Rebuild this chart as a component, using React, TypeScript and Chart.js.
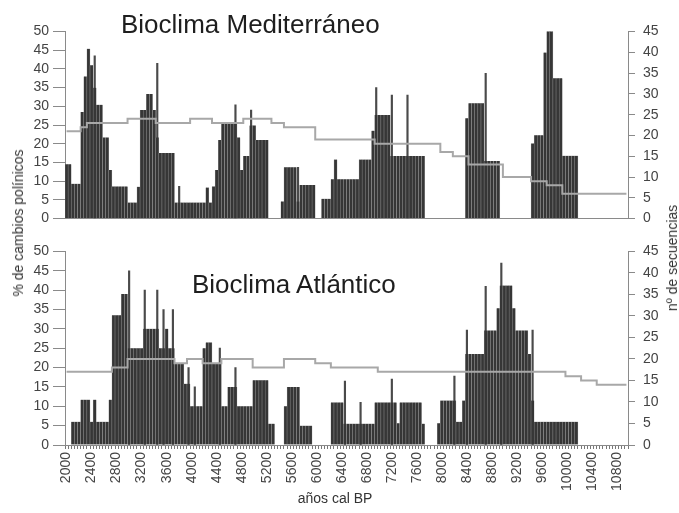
import React, { useEffect, useRef } from "react";
import { Chart, registerables } from "chart.js";

Chart.register(...registerables);

const FONT = "'Liberation Sans', Arial, Helvetica, sans-serif";

// x categories: 50-year bins (años cal BP)
const years = [
  2000, 2050, 2100, 2150, 2200, 2250, 2300, 2350, 2400, 2450,
  2500, 2550, 2600, 2650, 2700, 2750, 2800, 2850, 2900, 2950,
  3000, 3050, 3100, 3150, 3200, 3250, 3300, 3350, 3400, 3450,
  3500, 3550, 3600, 3650, 3700, 3750, 3800, 3850, 3900, 3950,
  4000, 4050, 4100, 4150, 4200, 4250, 4300, 4350, 4400, 4450,
  4500, 4550, 4600, 4650, 4700, 4750, 4800, 4850, 4900, 4950,
  5000, 5050, 5100, 5150, 5200, 5250, 5300, 5350, 5400, 5450,
  5500, 5550, 5600, 5650, 5700, 5750, 5800, 5850, 5900, 5950,
  6000, 6050, 6100, 6150, 6200, 6250, 6300, 6350, 6400, 6450,
  6500, 6550, 6600, 6650, 6700, 6750, 6800, 6850, 6900, 6950,
  7000, 7050, 7100, 7150, 7200, 7250, 7300, 7350, 7400, 7450,
  7500, 7550, 7600, 7650, 7700, 7750, 7800, 7850, 7900, 7950,
  8000, 8050, 8100, 8150, 8200, 8250, 8300, 8350, 8400, 8450,
  8500, 8550, 8600, 8650, 8700, 8750, 8800, 8850, 8900, 8950,
  9000, 9050, 9100, 9150, 9200, 9250, 9300, 9350, 9400, 9450,
  9500, 9550, 9600, 9650, 9700, 9750, 9800, 9850, 9900, 9950,
  10000, 10050, 10100, 10150, 10200, 10250, 10300, 10350, 10400, 10450,
  10500, 10550, 10600, 10650, 10700, 10750, 10800, 10850, 10900, 10950,
];

// Bioclima Mediterráneo: % de cambios polínicos
const medBars = [
  14.5, 14.5, 9.3, 9.3, 9.3, 28.5, 38, 45.4, 41, 35,
  30.4, 30.4, 21.7, 21.7, 13, 8.6, 8.6, 8.6, 8.6, 8.6,
  4.3, 4.3, 4.3, 8.5, 29, 29, 33.3, 33.3, 29, 21.7,
  17.5, 17.5, 17.5, 17.5, 17.5, 4.3, 4.3, 4.3, 4.3, 4.3,
  4.3, 4.3, 4.3, 4.3, 4.3, 8.3, 4.3, 8.6, 13, 21,
  25.5, 25.5, 25.5, 25.5, 25.5, 21.7, 13, 16.7, 16.7, 24.9,
  24.9, 21, 21, 21, 21, 0, 0, 0, 0, 4.6,
  13.7, 13.7, 13.7, 13.7, 4.6, 9, 9, 9, 9, 9,
  0, 0, 5.3, 5.3, 5.3, 10.5, 15.8, 10.5, 10.5, 10.5,
  10.5, 10.5, 10.5, 10.5, 15.8, 15.8, 15.8, 15.8, 23.5, 27.7,
  27.7, 27.7, 27.7, 27.7, 16.7, 16.7, 16.7, 16.7, 16.7, 16.7,
  16.7, 16.7, 16.7, 16.7, 16.7, 0, 0, 0, 0, 0,
  0, 0, 0, 0, 0, 0, 0, 0, 26.8, 30.8,
  30.8, 30.8, 30.8, 30.8, 15.4, 15.4, 15.4, 15.4, 15.4, 0,
  0, 0, 0, 0, 0, 0, 0, 0, 0, 20.1,
  22.3, 22.3, 22.3, 44.4, 50.2, 50.2, 37.5, 37.5, 37.5, 16.8,
  16.8, 16.8, 16.8, 16.8, 0, 0, 0, 0, 0, 0,
  0, 0, 0, 0, 0, 0, 0, 0, 0, 0,
];

// Bioclima Mediterráneo: nº de secuencias
const medSeq = [
  21, 21, 21, 21, 21, 22, 22, 23, 23, 23,
  23, 23, 23, 23, 23, 23, 23, 23, 23, 23,
  24, 24, 24, 24, 24, 24, 24, 24, 24, 23,
  23, 23, 23, 23, 23, 23, 23, 23, 23, 23,
  24, 24, 24, 24, 24, 24, 24, 23, 23, 23,
  23, 23, 23, 23, 23, 23, 23, 24, 24, 24,
  24, 24, 24, 24, 24, 24, 23, 23, 23, 23,
  22, 22, 22, 22, 22, 22, 22, 22, 22, 22,
  19, 19, 19, 19, 19, 19, 19, 19, 19, 19,
  19, 19, 19, 19, 19, 19, 19, 19, 19, 18,
  18, 18, 18, 18, 18, 18, 18, 18, 18, 18,
  18, 18, 18, 18, 18, 18, 18, 18, 18, 18,
  16, 16, 16, 16, 15, 15, 15, 15, 15, 13,
  13, 13, 13, 13, 13, 13, 13, 13, 13, 13,
  10, 10, 10, 10, 10, 10, 10, 10, 10, 9,
  9, 9, 9, 9, 8, 8, 8, 8, 8, 6,
  6, 6, 6, 6, 6, 6, 6, 6, 6, 6,
  6, 6, 6, 6, 6, 6, 6, 6, 6, 6,
];

// thin single-sample peaks
const medSpikeYears = [2450, 3450, 3800, 4700, 4950, 5700, 6950, 7200, 7450, 8700];
const medSpikeValues = [43.5, 41.5, 8.6, 30.4, 29, 13.7, 35, 33, 33, 38.8];

// Bioclima Atlántico: % de cambios polínicos
const atlBars = [
  0, 0, 6, 6, 6, 11.7, 11.7, 11.7, 6, 11.7,
  6, 6, 6, 6, 11.7, 33.5, 33.5, 33.5, 39, 39,
  25, 25, 25, 25, 25, 30, 30, 30, 30, 30,
  25, 25, 30, 25, 25, 21, 21, 21, 15.8, 15.8,
  10, 10, 10, 10, 25, 26.5, 26.5, 21, 21, 21,
  10, 10, 15, 15, 15, 10, 10, 10, 10, 10,
  16.7, 16.7, 16.7, 16.7, 16.7, 5.5, 5.5, 0, 0, 0,
  10, 15, 15, 15, 15, 5, 5, 5, 5, 0,
  0, 0, 0, 0, 0, 11, 11, 11, 11, 5.5,
  5.5, 5.5, 5.5, 5.5, 5.5, 5.5, 5.5, 5.5, 5.5, 11,
  11, 11, 11, 11, 11, 11, 5.6, 11, 11, 11,
  11, 11, 11, 11, 5.5, 0, 0, 0, 0, 5.6,
  11.5, 11.5, 11.5, 11.5, 11.5, 6, 6, 11.5, 23.5, 23.5,
  23.5, 23.5, 23.5, 23.5, 29.6, 29.6, 29.6, 29.6, 35.3, 41.2,
  41.2, 41.2, 41.2, 35.3, 29.6, 29.6, 29.6, 29.6, 23.5, 11.5,
  6, 6, 6, 6, 6, 6, 6, 6, 6, 6,
  6, 6, 6, 6, 0, 0, 0, 0, 0, 0,
  0, 0, 0, 0, 0, 0, 0, 0, 0, 0,
];

// Bioclima Atlántico: nº de secuencias
const atlSeq = [
  17, 17, 17, 17, 17, 17, 17, 17, 17, 17,
  17, 17, 17, 17, 17, 18, 18, 18, 18, 18,
  20, 20, 20, 20, 20, 20, 20, 20, 20, 20,
  20, 20, 20, 20, 20, 19, 19, 19, 19, 20,
  20, 20, 20, 20, 19, 19, 19, 19, 19, 19,
  20, 20, 20, 20, 20, 20, 20, 20, 20, 20,
  18, 18, 18, 18, 18, 18, 18, 18, 18, 18,
  20, 20, 20, 20, 20, 20, 20, 20, 20, 20,
  19, 19, 19, 19, 19, 18, 18, 18, 18, 18,
  18, 18, 18, 18, 18, 18, 18, 18, 18, 18,
  17, 17, 17, 17, 17, 17, 17, 17, 17, 17,
  17, 17, 17, 17, 17, 17, 17, 17, 17, 17,
  17, 17, 17, 17, 17, 17, 17, 17, 17, 17,
  17, 17, 17, 17, 17, 17, 17, 17, 17, 17,
  17, 17, 17, 17, 17, 17, 17, 17, 17, 17,
  17, 17, 17, 17, 17, 17, 17, 17, 17, 17,
  16, 16, 16, 16, 16, 15, 15, 15, 15, 15,
  14, 14, 14, 14, 14, 14, 14, 14, 14, 14,
];

const atlSpikeYears = [3000, 3250, 3450, 3550, 3700, 3950, 4050, 4450, 4700, 6450, 6700, 7200, 8200, 8400, 8700, 8950, 9450];
const atlSpikeValues = [45, 40, 40, 35, 35, 20, 15, 25, 20, 16.5, 11, 17, 17.8, 29.7, 41, 47, 29.7];

const TICK_COLOR = "#444";
const AXIS_COLOR = "#8a8a8a";

function makeConfig(
  bars: number[],
  seq: number[],
  spikeYears: number[],
  spikeValues: number[],
  isBottom: boolean
): any {
  const labels = years.map(String);
  return {
    type: "bar",
    data: {
      labels,
      datasets: [
        {
          type: "line",
          label: "nº de secuencias",
          data: seq,
          yAxisID: "y2",
          borderColor: "#a8a8a8",
          borderWidth: 2,
          pointRadius: 0,
          stepped: "middle",
          fill: false,
          order: 0,
        },
        {
          type: "bar",
          label: "% de cambios polínicos",
          data: bars,
          yAxisID: "y",
          backgroundColor: "#363636",
          borderColor: "#9c9c9c",
          borderWidth: { left: 0.5, right: 0.5, top: 0, bottom: 0 },
          barPercentage: 1,
          categoryPercentage: 1,
          grouped: false,
          order: 1,
        },
        {
          type: "bar",
          label: "picos",
          data: spikeYears.map((yr, i) => ({ x: String(yr), y: spikeValues[i] })),
          yAxisID: "y",
          backgroundColor: "#4a4a4a",
          barThickness: 1.5,
          grouped: false,
          order: 2,
        },
      ],
    },
    options: {
      responsive: false,
      animation: false,
      events: [],
      layout: { padding: { top: isBottom ? 11.5 : 31.5, left: 0, right: 0, bottom: 0 } },
      plugins: { legend: { display: false }, tooltip: { enabled: false } },
      scales: {
        x: {
          type: "category",
          offset: true,
          grid: {
            display: true,
            drawOnChartArea: false,
            drawTicks: isBottom,
            tickLength: 4,
            color: "#777",
            offset: true,
          },
          border: { display: true, color: AXIS_COLOR, width: 1 },
          ticks: {
            display: isBottom,
            autoSkip: false,
            maxRotation: 90,
            minRotation: 90,
            padding: 3,
            color: TICK_COLOR,
            font: { family: FONT, size: 14 },
            callback: (_v: any, i: number) => (years[i] % 400 === 0 ? String(years[i]) : ""),
          },
          afterFit: (s: any) => {
            s.height = isBottom ? 68 : 9.3;
          },
        },
        y: {
          position: "left",
          min: 0,
          max: 50,
          ticks: { stepSize: 5, autoSkip: false, padding: 4, color: TICK_COLOR, font: { family: FONT, size: 14 } },
          grid: { drawOnChartArea: false, tickLength: 12, color: AXIS_COLOR },
          border: { color: AXIS_COLOR, width: 1 },
          afterFit: (s: any) => {
            s.width = 65;
          },
        },
        y2: {
          position: "right",
          min: 0,
          max: 45,
          ticks: { stepSize: 5, autoSkip: false, padding: 8, color: TICK_COLOR, font: { family: FONT, size: 14 } },
          grid: { drawOnChartArea: false, tickLength: 7, color: AXIS_COLOR },
          border: { color: AXIS_COLOR, width: 1 },
          afterFit: (s: any) => {
            s.width = 51;
          },
        },
      },
    },
  };
}

export default function App() {
  const topRef = useRef<HTMLCanvasElement | null>(null);
  const botRef = useRef<HTMLCanvasElement | null>(null);

  useEffect(() => {
    const c1 = new Chart(topRef.current as HTMLCanvasElement, makeConfig(medBars, medSeq, medSpikeYears, medSpikeValues, false));
    const c2 = new Chart(botRef.current as HTMLCanvasElement, makeConfig(atlBars, atlSeq, atlSpikeYears, atlSpikeValues, true));
    return () => {
      c1.destroy();
      c2.destroy();
    };
  }, []);

  const rot = (cx: number, cy: number): React.CSSProperties => ({
    position: "absolute",
    left: cx,
    top: cy,
    transform: "translate(-50%, -50%) rotate(-90deg)",
    whiteSpace: "nowrap",
    fontSize: 14,
    lineHeight: "14px",
    color: "#333",
  });

  return (
    <div
      style={{
        position: "absolute",
        left: 0,
        top: 0,
        width: 679,
        height: 513,
        background: "#fff",
        fontFamily: FONT,
        overflow: "hidden",
      }}
    >
      <canvas ref={topRef} width={679} height={235} style={{ position: "absolute", left: 0, top: 0, display: "block" }} />
      <canvas ref={botRef} width={679} height={278} style={{ position: "absolute", left: 0, top: 235, display: "block" }} />
      <div style={{ position: "absolute", left: 121, top: 11.3, fontSize: 26, lineHeight: "26px", color: "#1e1e1e", whiteSpace: "nowrap" }}>
        Bioclima Mediterráneo
      </div>
      <div style={{ position: "absolute", left: 192, top: 271.3, fontSize: 26, lineHeight: "26px", color: "#1e1e1e", whiteSpace: "nowrap" }}>
        Bioclima Atlántico
      </div>
      <div style={rot(18, 223)}>% de cambios polínicos</div>
      <div style={rot(672, 258)}>nº de secuencias</div>
      <div
        style={{
          position: "absolute",
          left: 335,
          top: 491,
          transform: "translateX(-50%)",
          fontSize: 14,
          lineHeight: "14px",
          color: "#333",
          whiteSpace: "nowrap",
        }}
      >
        años cal BP
      </div>
    </div>
  );
}
